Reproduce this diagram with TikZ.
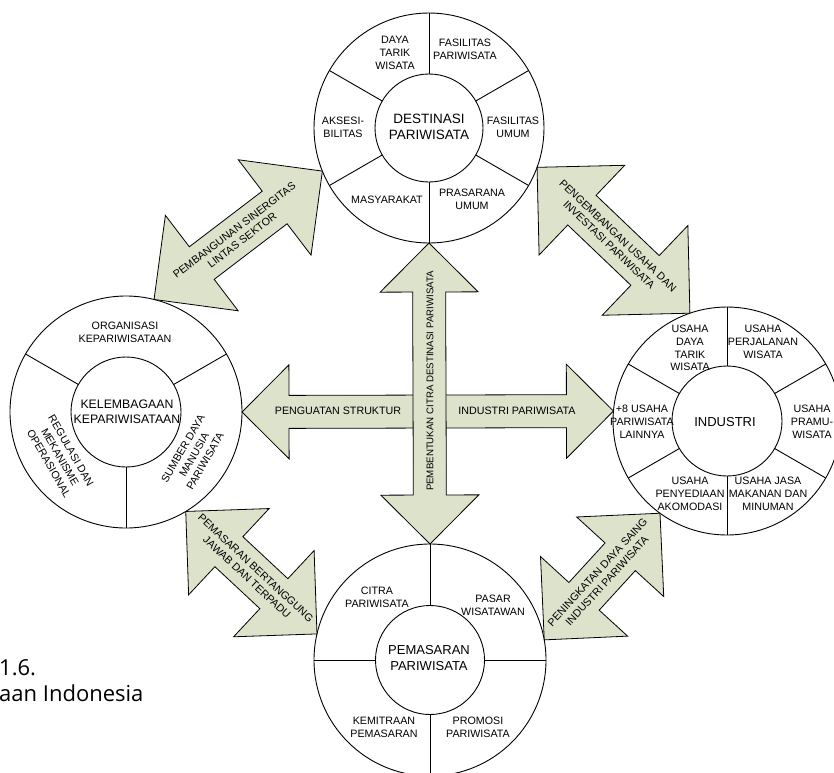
\documentclass[tikz,border=0pt]{standalone}
\usepackage{fontspec}
\setmainfont{Liberation Sans}
\newfontfamily\capfont{Open Sans}
\usetikzlibrary{calc}
\definecolor{arrowfill}{RGB}{221,226,203}

% broad double-headed arrow between two points:
% #1 name, #2 start, #3 end, #4 head length (= half head width), #5 half shaft width
\newcommand\fatarrow[5]{%
  \coordinate (#1-a) at ($(#2)!#4!(#3)$);
  \coordinate (#1-b) at ($(#3)!#4!(#2)$);
  \draw[bigarrow] (#2) -- ($(#1-a)!#4!90:(#3)$) -- ($(#1-a)!#5!90:(#3)$)
    -- ($(#1-b)!#5!-90:(#2)$) -- ($(#1-b)!#4!-90:(#2)$) -- (#3)
    -- ($(#1-b)!#4!90:(#2)$) -- ($(#1-b)!#5!90:(#2)$)
    -- ($(#1-a)!#5!-90:(#3)$) -- ($(#1-a)!#4!-90:(#3)$) -- cycle;
}

\begin{document}
\begin{tikzpicture}[x=1pt,y=-1pt,
  ring/.style={circle, draw, line width=0.9pt, inner sep=0pt, outer sep=0pt, fill=white},
  divider/.style={line width=0.9pt},
  bigarrow/.style={draw, line width=0.8pt, fill=arrowfill, line join=miter},
  lbl/.style={font=\fontsize{10.7}{12.8}\selectfont, align=center, inner sep=0pt},
  hub/.style={font=\fontsize{13}{15.5}\selectfont, align=center, inner sep=0pt},
  captext/.style={anchor=base west, inner sep=0pt, font=\capfont\fontsize{22}{26}\selectfont},
]
\useasboundingbox (0,0) rectangle (834,772);
\clip (0,0) rectangle (834,772);
\fill[white] (0,0) rectangle (834,772);

% ---------- DESTINASI PARIWISATA ----------
\node[ring, minimum size=230] (dest) at (429,128) {};
\node[ring, minimum size=108] (dest-c) at (dest.center) {};
\foreach \a in {30,90,150,210,270,330} \draw[divider] (dest-c.\a) -- (dest.\a);
\node[hub, font=\fontsize{13.5}{15.7}\selectfont] (dest-t) at (429,127) {DESTINASI\\PARIWISATA};
\node[lbl] (dtw) at (395,53) {DAYA\\TARIK\\WISATA};
\node[lbl] (fp) at (465,49) {FASILITAS\\PARIWISATA};
\node[lbl] (aks) at (343,127) {AKSESI-\\BILITAS};
\node[lbl] (fu) at (513,127) {FASILITAS\\UMUM};
\node[lbl] (mas) at (387,200) {MASYARAKAT};
\node[lbl] (pu) at (472,199) {PRASARANA\\UMUM};

% ---------- INDUSTRI ----------
\node[ring, minimum size=228] (ind) at (727,421) {};
\node[ring, minimum size=110] (ind-c) at (ind.center) {};
\foreach \a in {30,90,150,210,270,330} \draw[divider] (ind-c.\a) -- (ind.\a);
\node[hub] (ind-t) at (725,422) {INDUSTRI};
\node[lbl] (udt) at (690,348) {USAHA\\DAYA\\TARIK\\WISATA};
\node[lbl] (upw) at (763,342) {USAHA\\PERJALANAN\\WISATA};
\node[lbl] (upr) at (812,422) {USAHA\\PRAMU-\\WISATA};
\node[lbl] (ul) at (642,422) {+8 USAHA\\PARIWISATA\\LAINNYA};
\node[lbl] (upa) at (690,494) {USAHA\\PENYEDIAAN\\AKOMODASI};
\node[lbl] (ujm) at (768,494) {USAHA JASA\\MAKANAN DAN\\MINUMAN};

% ---------- KELEMBAGAAN KEPARIWISATAAN ----------
\node[ring, minimum size=232] (kel) at (126,412) {};
\node[ring, minimum size=110] (kel-c) at (kel.center) {};
\foreach \a in {30,150,270} \draw[divider] (kel-c.\a) -- (kel.\a);
\node[hub, font=\fontsize{12.3}{14.5}\selectfont] (kel-t) at (127,412) {KELEMBAGAAN\\KEPARIWISATAAN};
\node[lbl] (org) at (125,332) {ORGANISASI\\KEPARIWISATAAN};
\node[lbl, rotate=-60] (reg) at (60,457) {REGULASI DAN\\MEKANISME\\OPERASIONAL};
\node[lbl, rotate=60] (sdm) at (194,455) {SUMBER DAYA\\MANUSIA\\PARIWISATA};

% ---------- PEMASARAN PARIWISATA ----------
\node[ring, minimum size=232] (pem) at (430,660) {};
\node[ring, minimum size=109] (pem-c) at (pem.center) {};
\foreach \a in {0,90,180,270} \draw[divider] (pem-c.\a) -- (pem.\a);
\node[hub] (pem-t) at (429,658) {PEMASARAN\\PARIWISATA};
\node[lbl] (cit) at (377,597) {CITRA\\PARIWISATA};
\node[lbl] (pas) at (493,605) {PASAR\\WISATAWAN};
\node[lbl] (kem) at (384,727) {KEMITRAAN\\PEMASARAN};
\node[lbl] (pro) at (478,727) {PROMOSI\\PARIWISATA};

% ---------- diagonal links ----------
\fatarrow{lsek}{kel.76}{dest.202}{60pt}{20.5pt}
\path (kel.76) -- node[lbl, sloped] (lsek-t) {PEMBANGUNAN SINERGITAS\\LINTAS SEKTOR} (dest.202);

\fatarrow{inv}{dest.340}{ind.109}{62pt}{20.5pt}
\path (dest.340) -- node[lbl, sloped] (inv-t) {PENGEMBANGAN USAHA DAN\\INVESTASI PARIWISATA} (ind.109);

\fatarrow{mkt}{kel.301}{pem.167}{59pt}{20.5pt}
\path (kel.301) -- node[lbl, sloped] (mkt-t) {PEMASARAN BERTANGGUNG\\JAWAB DAN TERPADU} (pem.167);

\fatarrow{dsg}{pem.10}{ind.234}{59pt}{20.5pt}
\path (pem.10) -- node[lbl, sloped] (dsg-t) {PENINGKATAN DAYA SAING\\INDUSTRI PARIWISATA} (ind.234);

% ---------- central cross ----------
\fatarrow{hz}{kel.east}{ind.175.5}{47pt}{16.5pt}
\node[lbl] (str) at (338,411) {PENGUATAN STRUKTUR};
\node[lbl] (ipw) at (517,411) {INDUSTRI PARIWISATA};

\fatarrow{vt}{pem.north}{dest.south}{49pt}{16.5pt}
\node[lbl, rotate=90, font=\fontsize{9.7}{11}\selectfont] (cdp) at (430,381) {PEMBENTUKAN CITRA DESTINASI PARIWISATA};

% ---------- caption fragment ----------
\node[captext] (cap1) at (-1,675) {1.6.};
\node[captext] (cap2) at (-1,701) {aan Indonesia};
\end{tikzpicture}
\end{document}
